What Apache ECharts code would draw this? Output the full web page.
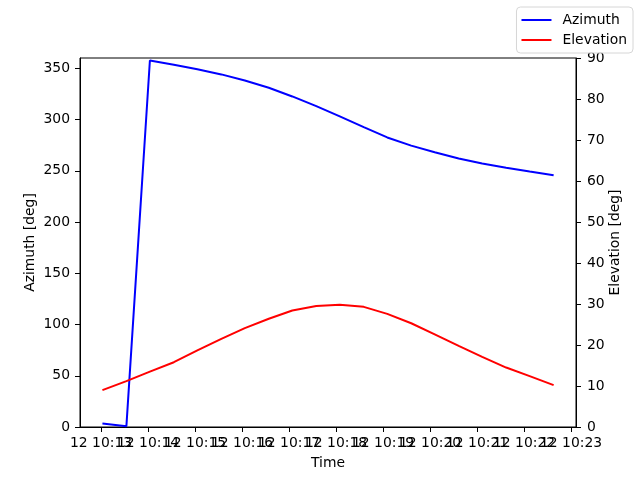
<!DOCTYPE html>
<html>
<head>
<meta charset="utf-8">
<script src="https://cdn.jsdelivr.net/npm/echarts@6/dist/echarts.min.js"></script>
<style>html,body{margin:0;padding:0;background:#fff}#c{width:640px;height:480px}</style>
</head>
<body>
<div id="c"></div>
<script>
// time in minutes after 10:00 (day 12)
const timeMinutes = [13.03, 13.54, 14.04, 14.55, 15.05, 15.56, 16.06, 16.57, 17.07, 17.58,
                     18.08, 18.59, 19.09, 19.60, 20.10, 20.61, 21.11, 21.62, 22.12, 22.63];
const azimuth = [3.5, 0.8, 357.6, 353.5, 349, 344, 338, 331, 322.5, 313,
                 303, 292.5, 282.5, 274.5, 268, 262, 257, 253, 249.3, 245.7];
const elevation = [9.0, 11.2, 13.5, 15.8, 18.7, 21.5, 24.1, 26.4, 28.4, 29.5,
                   29.8, 29.3, 27.6, 25.3, 22.6, 19.8, 17.1, 14.5, 12.4, 10.2];
const xTicksOdd = [13, 15, 17, 19, 21, 23];
const xTicksEven = [14, 16, 18, 20, 22];
const azTicks = [0, 50, 100, 150, 200, 250, 300, 350];

const FS = 13.9;
const FONT = 'DejaVu Sans';
const chart = echarts.init(document.getElementById('c'));
const axisLine = {show: true, lineStyle: {color: '#000', width: 1}};
const axisTick = {show: true, length: 5, inside: false, lineStyle: {color: '#000', width: 1}};
const fmtTime = v => '12 10:' + String(Math.round(v)).padStart(2, '0');
function timeAxis(ticks, withName) {
  return {
    type: 'value', min: 12.553, max: 23.106, position: 'bottom', offset: 0,
    name: withName ? 'Time' : '', nameLocation: 'middle', nameGap: 29,
    nameTextStyle: {fontFamily: FONT, fontSize: FS, color: '#000'},
    axisLine: axisLine,
    axisTick: Object.assign({}, axisTick, {customValues: ticks}),
    axisLabel: {customValues: ticks, showMinLabel: true, showMaxLabel: true, hideOverlap: false,
      margin: 9, color: '#000', fontFamily: FONT, fontSize: FS, formatter: fmtTime},
    splitLine: {show: false}
  };
}
chart.setOption({
  animation: false,
  textStyle: {fontFamily: FONT},
  grid: {left: 80, right: 64, top: 58, bottom: 53, show: true, borderColor: '#000', borderWidth: 1, containLabel: false},
  legend: {
    orient: 'vertical', right: 7, top: 7,
    data: [{name: 'Azimuth', icon: 'rect'}, {name: 'Elevation', icon: 'rect'}],
    itemWidth: 30, itemHeight: 2, itemGap: 4,
    padding: [5, 6, 5, 5],
    borderColor: '#d6d6d6', borderWidth: 1, borderRadius: 4,
    backgroundColor: 'rgba(255,255,255,0.8)',
    textStyle: {fontFamily: FONT, fontSize: FS, color: '#000', padding: [0, 0, 0, 6], lineHeight: 16}
  },
  xAxis: [timeAxis(xTicksOdd, true), timeAxis(xTicksEven, false)],
  yAxis: [
    {
      type: 'value', min: 0, max: 360, position: 'left',
      name: 'Azimuth [deg]', nameLocation: 'middle', nameGap: 43, nameRotate: 90, nameMoveOverlap: false,
      nameTextStyle: {fontFamily: FONT, fontSize: FS, color: '#000'},
      axisLine: axisLine,
      axisTick: Object.assign({}, axisTick, {customValues: azTicks}),
      axisLabel: {customValues: azTicks, showMinLabel: true, margin: 10, color: '#000', fontFamily: FONT, fontSize: FS},
      splitLine: {show: false}
    },
    {
      type: 'value', min: 0, max: 90, interval: 10, position: 'right',
      name: 'Elevation [deg]', nameLocation: 'middle', nameGap: 32, nameRotate: 90, nameMoveOverlap: false,
      nameTextStyle: {fontFamily: FONT, fontSize: FS, color: '#000'},
      axisLine: axisLine,
      axisTick: axisTick,
      axisLabel: {showMinLabel: true, showMaxLabel: true, margin: 11, color: '#000', fontFamily: FONT, fontSize: FS},
      splitLine: {show: false}
    }
  ],
  series: [
    {
      name: 'Azimuth', type: 'line', xAxisIndex: 0, yAxisIndex: 0, symbol: 'none',
      color: '#0000ff', lineStyle: {color: '#0000ff', width: 2}, itemStyle: {color: '#0000ff'},
      data: timeMinutes.map((t, i) => [t, azimuth[i]])
    },
    {
      name: 'Elevation', type: 'line', xAxisIndex: 0, yAxisIndex: 1, symbol: 'none',
      color: '#ff0000', lineStyle: {color: '#ff0000', width: 2}, itemStyle: {color: '#ff0000'},
      data: timeMinutes.map((t, i) => [t, elevation[i]])
    }
  ]
});
</script>
</body>
</html>
